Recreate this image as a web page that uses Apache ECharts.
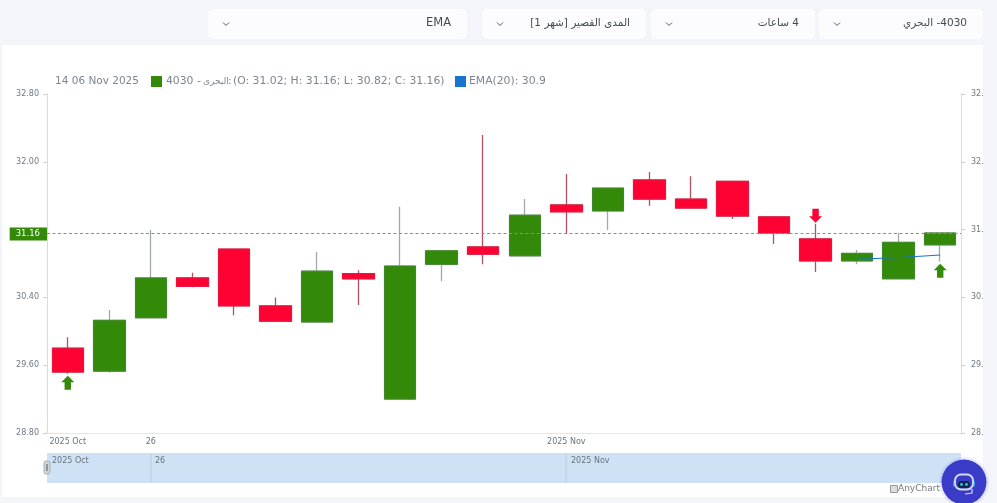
<!DOCTYPE html>
<html><head><meta charset="utf-8">
<style>html,body{margin:0;padding:0;background:#f4f5fa;overflow:hidden}#c{position:absolute;left:0;top:0;width:997px;height:503px}</style>
<script src="https://cdn.jsdelivr.net/npm/echarts@6/dist/echarts.min.js"></script>
</head><body><div id="c"></div>
<script>
const categories = ['2025 Oct','','26','','','','','','','','','','2025 Nov','','','','','','','','',''];
const openValues  = [29.80,29.53,30.16,30.63,30.97,30.30,30.11,30.68,29.20,30.79,30.995,30.89,31.49,31.42,31.785,31.56,31.77,31.35,31.09,30.83,30.62,31.02];
const closeValues = [29.52,30.13,30.63,30.53,30.30,30.12,30.71,30.62,30.77,30.95,30.91,31.37,31.41,31.69,31.56,31.455,31.36,31.16,30.83,30.92,31.05,31.16];
const lowValues   = [29.50,29.51,30.16,30.52,30.19,30.11,30.11,30.31,29.20,30.59,30.79,30.89,31.15,31.195,31.48,31.455,31.325,31.03,30.70,30.79,30.62,30.82];
const highValues  = [29.93,30.25,31.195,30.69,30.97,30.40,30.935,30.72,31.47,30.95,32.316,31.56,31.856,31.69,31.88,31.83,31.77,31.35,31.27,30.96,31.16,31.16];
const emaValues   = [null,null,null,null,null,null,null,null,null,null,null,null,null,null,null,null,null,null,null,30.85,30.87,30.90];
const buySignals  = [[0,29.50],[21,30.82]];
const sellSignals = [[18,31.27]];
const yTicks = {min:28.8,max:32.8,step:0.8};
const lastPrice = 31.16;
const legendDate = '14 06 Nov 2025';
const legendOHLC = '(O: 31.02; H: 31.16; L: 30.82; C: 31.16)';
const legendEma = 'EMA(20): 30.9';
const dropdowns = [
 {x:208,w:259,label:'EMA',size:11.5},
 {x:482,w:164,label:'\u202Bالمدى القصير [شهر 1]\u202C',size:10.5},
 {x:651,w:164,label:'\u202B4 ساعات\u202C',size:10.5},
 {x:819,w:164,label:'\u202B4030- البحري\u202C',size:10.5}
];
const navLabels = [{x:52,t:'2025 Oct'},{x:155,t:'26'},{x:571,t:'2025 Nov'}];
const navSeparators = [151,566];

const GREEN='#338a08', RED='#fe0233', FONT='"DejaVu Sans",Verdana,sans-serif';
const upArrow='path://M6.5 0L13 6H9.7V13H3.3V6H0Z', downArrow='path://M3.3 0H9.7V7H13L6.5 13L0 7H3.3Z';
const g=[];
g.push({type:'rect',z:0,shape:{x:2,y:45,width:981,height:452},style:{fill:'#fff'},silent:true});
dropdowns.forEach(d=>{
 g.push({type:'rect',shape:{x:d.x,y:9,width:d.w,height:30,r:5},style:{fill:'#fcfcfe'}});
 g.push({type:'text',x:d.x+d.w-16,y:23.5,style:{text:d.label,align:'right',verticalAlign:'middle',font:d.size+'px '+FONT,fill:'#444b55'}});
 g.push({type:'polyline',shape:{points:[[d.x+15,22.5],[d.x+18,25.5],[d.x+21,22.5]]},style:{stroke:'#555c66',lineWidth:1,fill:null}});
});
const lg={font:'10.8px '+FONT,fill:'#7d8590',verticalAlign:'middle'};
const T=(x,t,f)=>g.push({type:'text',x,y:81.5,style:Object.assign({},lg,{text:t},f||{})});
T(55,legendDate,{font:'10.5px '+FONT});
g.push({type:'rect',shape:{x:151,y:76,width:11,height:11},style:{fill:GREEN}});
T(166,'4030 -');
T(203,'البحرى',{font:'9px '+FONT});
T(228,':');
T(233,legendOHLC);
g.push({type:'rect',shape:{x:455,y:76,width:11,height:11},style:{fill:'#1874cd'}});
T(469,legendEma);
// navigator
g.push({type:'rect',z:1,shape:{x:47,y:453,width:914,height:30},style:{fill:'#cfe2f5'}});
navSeparators.forEach(x=>g.push({type:'rect',z:1,shape:{x:x-0.5,y:453,width:1.5,height:30},style:{fill:'#c2d4e8'}}));
navLabels.forEach(n=>g.push({type:'text',z:2,x:n.x,y:461,style:{text:n.t,font:'8px '+FONT,fill:'#6a7480',verticalAlign:'middle'}}));
g.push({type:'rect',z:3,shape:{x:44,y:461,width:6,height:13,r:2},style:{fill:'#cfd4d8',stroke:'#a9afb5',lineWidth:1}});
g.push({type:'rect',z:3,shape:{x:46,y:464,width:2,height:7},style:{fill:'#8f959b'}});
// watermark
g.push({type:'rect',z:3,shape:{x:890.5,y:485.5,width:7,height:7},style:{fill:'#ddd',stroke:'#999',lineWidth:1}});
g.push({type:'text',z:3,x:898,y:488.5,style:{text:'AnyChart Trial',font:'9px '+FONT,fill:'#777',verticalAlign:'middle'}});
// right clip + bottom page strip
g.push({type:'rect',z:50,shape:{x:983,y:45,width:14,height:458},style:{fill:'#f4f5fa'}});
g.push({type:'rect',z:40,shape:{x:0,y:497,width:997,height:6},style:{fill:'#f4f5fa'}});
// assistant button
g.push({type:'circle',z:60,shape:{cx:964,cy:482,r:25},style:{fill:'rgba(90,100,230,0.12)'}});
g.push({type:'circle',z:61,shape:{cx:964,cy:482,r:22.5},style:{fill:'#3a3cc8'}});
g.push({type:'rect',z:62,shape:{x:953,y:480,width:22,height:7,r:2},style:{fill:'#2f9be8'}});
g.push({type:'rect',z:63,shape:{x:955,y:474.5,width:18,height:15,r:6},style:{fill:'#3a3cc8',stroke:'#d5dcf7',lineWidth:1.8}});
g.push({type:'rect',z:64,shape:{x:958,y:481,width:12,height:7,r:3},style:{fill:'#0e2a4a'}});
g.push({type:'circle',z:65,shape:{cx:961.5,cy:484.5,r:1.4},style:{fill:'#35c0f0'}});
g.push({type:'circle',z:65,shape:{cx:966.5,cy:484.5,r:1.4},style:{fill:'#35c0f0'}});
g.push({type:'polyline',z:62,shape:{points:[[972,489],[972,493],[965,494]]},style:{stroke:'#d5dcf7',lineWidth:1.2,fill:null}});

const chart=echarts.init(document.getElementById('c'),null,{renderer:'canvas',width:997,height:503});
const candleData=openValues.map((o,i)=>[o,closeValues[i],lowValues[i],highValues[i]]);
const bodyData=openValues.map((o,i)=>[o,closeValues[i],Math.min(o,closeValues[i]),Math.max(o,closeValues[i])]);
const yFmt=hide=>v=>(hide&&Math.abs(v-31.2)<0.01)?'':v.toFixed(2);
const yAxisBase={type:'value',min:yTicks.min,max:yTicks.max,interval:yTicks.step,scale:true,splitLine:{show:false},
 axisLine:{show:true,lineStyle:{color:'#d9d9d9'}},axisTick:{show:true,length:4,lineStyle:{color:'#d0d0d0'}}};
const labelStyle={fontFamily:FONT,fontSize:8,color:'#6f7883',margin:8,padding:[4,0,0,0]};
chart.setOption({
 animation:false,backgroundColor:'#f4f5fa',
 grid:{left:47,right:36,top:94,height:339,containLabel:false,outerBoundsMode:'none'},
 xAxis:{type:'category',data:categories,boundaryGap:true,
  axisLine:{show:true,lineStyle:{color:'#e6e6e6'}},axisTick:{show:false},splitLine:{show:false},
  axisLabel:{interval:0,fontFamily:FONT,fontSize:8,color:'#6a7480',margin:5,hideOverlap:false}},
 yAxis:[
  Object.assign({},yAxisBase,{position:'left',axisLabel:Object.assign({},labelStyle,{formatter:yFmt(true)})}),
  Object.assign({},yAxisBase,{position:'right',axisLabel:Object.assign({},labelStyle,{margin:10,formatter:yFmt(false)})})
 ],
 graphic:g,
 series:[
  {type:'candlestick',data:candleData,barWidth:32,z:2,
   itemStyle:{color:GREEN,color0:RED,borderColor:'#a2aaa8',borderColor0:'#b5505f',borderWidth:1.3},
   markLine:{silent:true,symbol:'none',animation:false,
    lineStyle:{type:[3,2.5],color:'#7d9a6a',width:1},
    label:{position:'start',distance:0,offset:[0,1],formatter:()=>lastPrice.toFixed(2),fontFamily:FONT,fontSize:8.5,color:'#fff',
     backgroundColor:GREEN,padding:[2,7,2,6]},
    data:[{yAxis:lastPrice}]}},
  {type:'candlestick',data:bodyData,barWidth:32,z:3,
   itemStyle:{color:GREEN,color0:RED,borderColor:'#41882a',borderColor0:'#e8163f',borderWidth:1}},
  {type:'line',data:emaValues,symbol:'none',connectNulls:false,lineStyle:{color:'#1874cd',width:1},z:4},
  {type:'scatter',data:buySignals,symbol:upArrow,symbolSize:[13,14],symbolOffset:[0,9],itemStyle:{color:GREEN,opacity:1},z:5,silent:true},
  {type:'scatter',data:sellSignals,symbol:downArrow,symbolSize:[13,14],symbolOffset:[0,-8],itemStyle:{color:RED,opacity:1},z:5,silent:true}
 ]
});
</script></body></html>
